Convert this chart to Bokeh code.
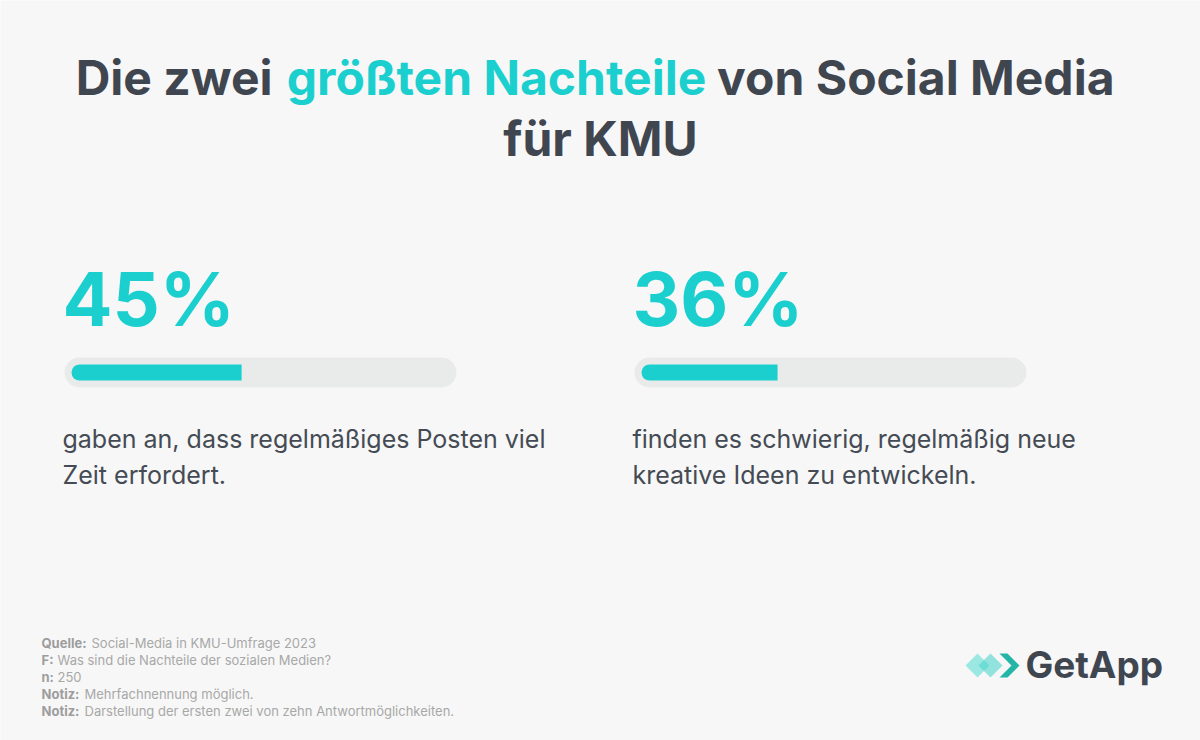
from bokeh.plotting import figure
from bokeh.models import Range1d
from bokeh.core.properties import value
from bokeh.embed import file_html
from bokeh.resources import INLINE

# ---- data ----
percent_values = [45, 36]
percent_labels = ["45%", "36%"]
descriptions = [
    ["gaben an, dass regelmäßiges Posten viel", "Zeit erfordert."],
    ["finden es schwierig, regelmäßig neue", "kreative Ideen zu entwickeln."],
]
title_parts = ["Die zwei", "größten Nachteile", "von Social Media"]
title_line2 = "für KMU"
footer_labels = ["Quelle:", "F:", "n:", "Notiz:", "Notiz:"]
footer_texts = [
    "Social-Media in KMU-Umfrage 2023",
    "Was sind die Nachteile der sozialen Medien?",
    "250",
    "Mehrfachnennung möglich.",
    "Darstellung der ersten zwei von zehn Antwortmöglichkeiten.",
]

W, H = 1200, 740
BG = "#f7f7f7"
DARK = "#3f4650"
TEAL = "#1ccfcf"
GREY = "#a8a8a8"
FONT = "Inter"

def ty(baseline, size, k=0.37):
    # empirical shift so that the glyph baseline lands on `baseline`
    return baseline - k * size

p = figure(width=W, height=H, x_range=Range1d(0, W), y_range=Range1d(H, 0),
           output_backend="svg", toolbar_location=None,
           background_fill_color=BG, border_fill_color=BG,
           min_border=0, outline_line_color=None)
p.axis.visible = False
p.grid.visible = False

def txt(x, y, s, size, color, align="left", bold=False):
    p.text(x=[x], y=[y], text=[s], text_font=value(FONT),
           text_font_style="bold" if bold else "normal",
           text_font_size=f"{size}px", text_color=color,
           text_align=align, text_baseline="alphabetic")

# ---- title ----
TS = 48
txt(272, ty(97, TS, 0.41), title_parts[0], TS, DARK, "right", True)
txt(496, ty(97, TS, 0.41), title_parts[1], TS, TEAL, "center", True)
txt(1114, ty(97, TS, 0.41), title_parts[2], TS, DARK, "right", True)
txt(600, ty(158, TS, 0.41), title_line2, TS, DARK, "center", True)

# ---- panels ----
col_x = [62, 632]
track_x0 = [64, 634]
track_w = 392
px_per_pct = 3.78
NS = 74
DS = 25
for i in range(2):
    cx = col_x[i]
    txt(cx, ty(324, NS, 0.35), percent_labels[i], NS, TEAL, "left", True)
    # track
    p.hbar(y=[372], left=[track_x0[i]], right=[track_x0[i] + track_w],
           height=30, fill_color="#e9ebea", line_color=None, border_radius=15)
    # fill
    fx0 = track_x0[i] + 7
    p.hbar(y=[372], left=[fx0], right=[fx0 + percent_values[i] * px_per_pct],
           height=16, fill_color=TEAL, line_color=None, border_radius=(8, 0, 0, 8))
    for j, line in enumerate(descriptions[i]):
        txt(cx, ty(447 + 36 * j, DS, 0.35), line, DS, "#454b54")

# ---- footer ----
FS = 13
text_starts = [91, 57, 57, 84, 84]
for k in range(5):
    yb = ty(647 + 17 * k, FS, 0.36)
    txt(41, yb, footer_labels[k], FS, "#9d9d9d", "left", True)
    txt(text_starts[k], yb, footer_texts[k], FS, GREY)

# ---- logo ----
def diamond(cx, cy, r):
    return [cx - r, cx, cx + r, cx], [cy, cy - r, cy, cy + r]

xs, ys = diamond(977, 665, 12)
p.patch(xs, ys, fill_color="#8fe6de", fill_alpha=0.9, line_color=None)
xs, ys = diamond(990, 665, 12)
p.patch(xs, ys, fill_color="#4fd6cb", fill_alpha=0.6, line_color=None)
p.patch([999, 1007, 1019, 1007, 999, 1011], [653, 653, 665, 677, 677, 665],
        fill_color="#22b5a8", line_color=None)
txt(1025, ty(677, 37, 0.36), "GetApp", 37, DARK, "left", True)

open("out.html", "w").write(file_html(p, INLINE))
